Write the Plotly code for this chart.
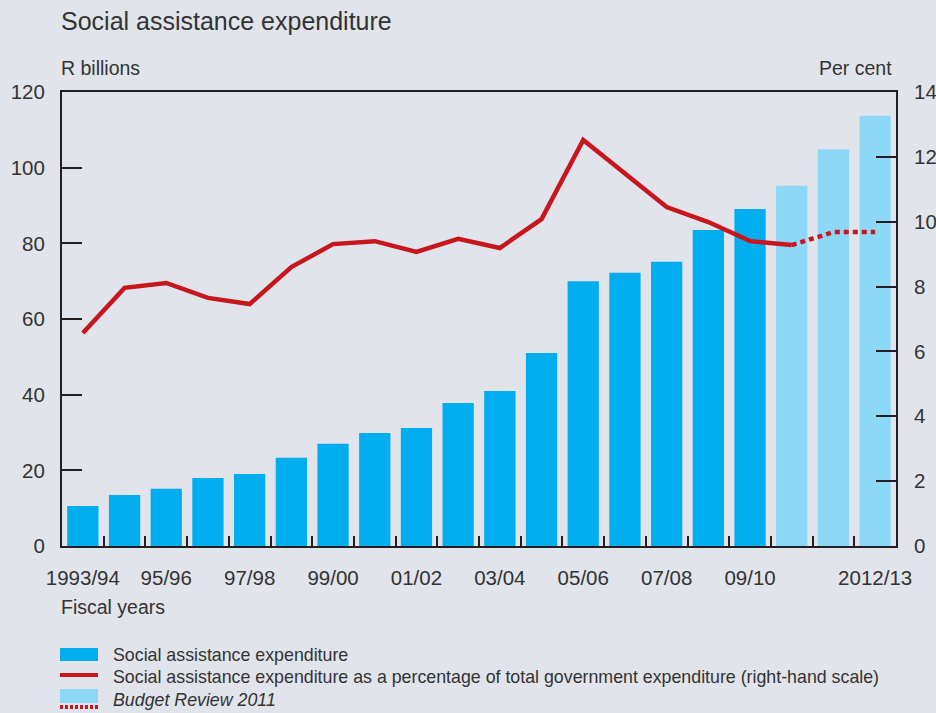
import plotly.graph_objects as go

# ---- data ----
years = ["1993/94", "1994/95", "1995/96", "1996/97", "1997/98", "1998/99", "1999/00",
         "2000/01", "2001/02", "2002/03", "2003/04", "2004/05", "2005/06", "2006/07",
         "2007/08", "2008/09", "2009/10", "2010/11", "2011/12", "2012/13"]
expenditure = [10.6, 13.5, 15.1, 18.0, 19.0, 23.3, 27.0, 29.9, 31.2, 37.8, 41.0, 51.0,
               70.0, 72.2, 75.1, 83.5, 89.1, 95.2, 104.9, 113.7]
pct_of_total = [6.57, 7.96, 8.11, 7.65, 7.46, 8.60, 9.31, 9.40, 9.07, 9.47, 9.19, 10.08,
                12.52, 11.50, 10.45, 9.99, 9.40, 9.28, 9.68, 9.68]
is_budget_review = [False] * 17 + [True] * 3
tick_label_idx = [0, 2, 4, 6, 8, 10, 12, 14, 16, 19]
tick_labels = ["1993/94", "95/96", "97/98", "99/00", "01/02", "03/04", "05/06",
               "07/08", "09/10", "2012/13"]

DARK = "#00AEEF"
LIGHT = "#8ED8F7"
RED = "#C8161E"
BG = "#E1E4EB"
INK = "#333333"
AX = "#231F20"
FONT = "Liberation Sans"
TICK_SIZE = 20.5

x = list(range(len(years)))
n_solid = is_budget_review.index(True) + 1  # solid line through first forecast point

fig = go.Figure()
fig.add_trace(go.Bar(
    x=x, y=expenditure, width=0.75,
    marker=dict(color=[LIGHT if b else DARK for b in is_budget_review], line_width=0),
    hovertext=years, name="Social assistance expenditure", showlegend=False,
))
fig.add_trace(go.Scatter(
    x=x[:n_solid], y=pct_of_total[:n_solid], yaxis="y2", mode="lines",
    line=dict(color=RED, width=4.5), showlegend=False,
))
fig.add_trace(go.Scatter(
    x=x[n_solid - 1:], y=pct_of_total[n_solid - 1:], yaxis="y2", mode="lines",
    line=dict(color=RED, width=4.5, dash="5px,4px"), showlegend=False,
))

fig.update_layout(
    width=936, height=713, autosize=False,
    margin=dict(l=62, r=40, t=92, b=167, autoexpand=False),
    paper_bgcolor=BG, plot_bgcolor=BG,
    font=dict(family=FONT, color=INK, size=19),
    showlegend=False,
    xaxis=dict(
        range=[-0.5, len(years) - 0.5], tickmode="array",
        tickvals=tick_label_idx, ticktext=tick_labels,
        ticks="inside", ticklen=0, ticklabelstandoff=12, automargin=False,
        showline=True, linecolor=AX, linewidth=2, mirror=True,
        showgrid=False, zeroline=False,
        tickfont=dict(size=TICK_SIZE, color=INK),
        minor=dict(tickmode="array", tickvals=[i + 0.5 for i in range(len(years) - 1)],
                   ticks="inside", ticklen=10, tickwidth=2, tickcolor=AX, showgrid=False),
    ),
    yaxis=dict(
        range=[0, 120], dtick=20, ticks="inside", ticklen=20, tickwidth=2, tickcolor=AX,
        showline=True, linecolor=AX, linewidth=2, showgrid=False, zeroline=False,
        ticklabelstandoff=11, automargin=False, tickfont=dict(size=TICK_SIZE, color=INK),
    ),
    yaxis2=dict(
        range=[0, 14], dtick=2, overlaying="y", side="right",
        ticks="inside", ticklen=20, tickwidth=2, tickcolor=AX,
        showline=True, linecolor=AX, linewidth=2, showgrid=False, zeroline=False,
        ticklabelstandoff=12, automargin=False, tickfont=dict(size=TICK_SIZE, color=INK),
    ),
)

def px_x(p):
    return (p - 62) / 834

def px_y(p):
    return (546 - p) / 454

ann = [
    dict(text="Social assistance expenditure", x=px_x(59), y=px_y(21), size=25),
    dict(text="R billions", x=px_x(59), y=px_y(68), size=19.5),
    dict(text="Fiscal years", x=px_x(59), y=px_y(607), size=19.5),
    dict(text="Social assistance expenditure", x=px_x(111), y=px_y(655), size=17.8),
    dict(text="Social assistance expenditure as a percentage of total government expenditure (right-hand scale)",
         x=px_x(111), y=px_y(677), size=17.8),
    dict(text="<i>Budget Review 2011</i>", x=px_x(111), y=px_y(700), size=17.8),
]
for a in ann:
    fig.add_annotation(text=a["text"], xref="paper", yref="paper", x=a["x"], y=a["y"],
                       xanchor="left", yanchor="middle", showarrow=False,
                       font=dict(size=a["size"], color=INK, family=FONT))
fig.add_annotation(text="Per cent", xref="paper", yref="paper", x=px_x(894), y=px_y(68),
                   xanchor="right", yanchor="middle", showarrow=False,
                   font=dict(size=19.5, color=INK, family=FONT))

# legend keys
fig.add_shape(type="rect", xref="paper", yref="paper", x0=px_x(60), x1=px_x(98),
              y0=px_y(648), y1=px_y(661), fillcolor=DARK, line_width=0)
fig.add_shape(type="line", xref="paper", yref="paper", x0=px_x(60), x1=px_x(98),
              y0=px_y(675), y1=px_y(675), line=dict(color=RED, width=4))
fig.add_shape(type="rect", xref="paper", yref="paper", x0=px_x(60), x1=px_x(98),
              y0=px_y(689), y1=px_y(703), fillcolor=LIGHT, line_width=0)
fig.add_shape(type="line", xref="paper", yref="paper", x0=px_x(60), x1=px_x(98),
              y0=px_y(707), y1=px_y(707), line=dict(color=RED, width=4, dash="3px,2px"))

fig.write_html("out.html", config={"displayModeBar": False},
               post_script="document.body.style.margin='0';document.body.style.overflow='hidden';")
